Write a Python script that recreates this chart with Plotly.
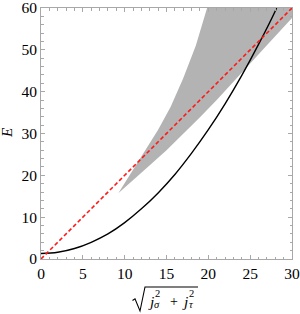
import plotly.graph_objects as go

# ---- data ----
# black curve
curve_x = [0, 2, 4, 6, 8, 10, 12, 14, 16, 18, 20, 22, 24, 26, 28, 28.15]
curve_E = [1.3, 1.6, 2.5, 4.0, 6.0, 8.7, 12.0, 15.8, 20.2, 25.3, 30.9, 37.1, 43.9, 51.3, 59.3, 60.0]

# red dashed line
line_x = [0, 30]
line_E = [0, 60]

# shaded region boundaries
shade_upper_x = [9.24, 11, 12.5, 14, 15.5, 17, 18.5, 19.85, 30]
shade_upper_E = [15.7, 21.2, 25.9, 30.9, 36.4, 43.2, 51.0, 60.0, 60.0]
shade_lower_x = [9.24, 11, 13, 15, 17, 19, 21, 23, 25, 27, 30]
shade_lower_E = [15.7, 18.8, 22.4, 26.0, 29.9, 33.9, 38.0, 42.3, 46.7, 51.1, 57.6]

x_ticks = [0, 5, 10, 15, 20, 25, 30]
y_ticks = [0, 10, 20, 30, 40, 50, 60]

# ---- figure ----
W, H = 300, 314
L, R, T, B = 41, 8, 8, 55
pw, ph = W - L - R, H - T - B


def px(xp):
    return (xp - L) / pw


def py(yp):
    return (H - B - yp) / ph


fig = go.Figure()

poly_x = shade_upper_x + shade_lower_x[::-1]
poly_y = shade_upper_E + shade_lower_E[::-1]
fig.add_trace(go.Scatter(x=poly_x, y=poly_y, mode="lines", fill="toself",
                         fillcolor="#b3b3b3", line=dict(width=0, color="#b3b3b3"),
                         hoverinfo="skip", showlegend=False))
fig.add_trace(go.Scatter(x=curve_x, y=curve_E, mode="lines", line_shape="spline",
                         line=dict(color="black", width=1.4), showlegend=False))
fig.add_trace(go.Scatter(x=line_x, y=line_E, mode="lines",
                         line=dict(color="#ff1a1a", width=1.6, dash="4px,2.5px"),
                         showlegend=False))

serif = "Liberation Serif"
frame = "#a8a8a8"
tickfont = dict(family=serif, size=15.5, color="black")
common = dict(showline=True, linecolor=frame, linewidth=1, mirror="ticks",
              ticks="inside", ticklen=4, tickcolor=frame, tickwidth=1,
              showgrid=False, zeroline=False, tickfont=tickfont, fixedrange=True,
              automargin=False, ticklabeloverflow="allow")

fig.update_xaxes(range=[0, 30], tickvals=x_ticks, ticktext=[str(v) for v in x_ticks],
                 minor=dict(dtick=1, ticklen=2.5, ticks="inside", tickcolor=frame, showgrid=False),
                 **common)
fig.update_yaxes(range=[0, 60], tickvals=y_ticks, ticktext=[str(v) for v in y_ticks],
                 minor=dict(dtick=2, ticklen=2.5, ticks="inside", tickcolor=frame, showgrid=False),
                 **common)

ann = []
# y title
ann.append(dict(text="<i>E</i>", x=px(7), y=py(133), xref="paper", yref="paper",
                textangle=-90, showarrow=False, xanchor="center", yanchor="middle",
                font=dict(family=serif, size=15, color="black")))


def t(text, x, y, size):
    ann.append(dict(text=text, x=px(x), y=py(y), xref="paper", yref="paper",
                    showarrow=False, xanchor="center", yanchor="middle", borderpad=0,
                    font=dict(family=serif, size=size, color="black")))


# x title pieces
t("<i>j</i>", 151, 301, 15.5)
t("2", 157, 293.5, 10.5)
t("<i>σ</i>", 157, 304, 10.5)
t("+", 173.5, 301, 14)
t("<i>j</i>", 185, 301, 15.5)
t("2", 191, 293.5, 10.5)
t("<i>τ</i>", 191, 304, 10.5)

shapes = [dict(type="path", xref="paper", yref="paper",
               path=f"M {px(132.5)},{py(300.5)} L {px(135)},{py(298.8)} L {px(140)},{py(311)} "
                    f"L {px(145)},{py(287)} L {px(198)},{py(287)}",
               line=dict(color="black", width=1.1))]

fig.update_layout(width=W, height=H, margin=dict(l=L, r=R, t=T, b=B, autoexpand=False),
                  plot_bgcolor="white", paper_bgcolor="white",
                  annotations=ann, shapes=shapes, showlegend=False)

fig.write_html("out.html", config={"displayModeBar": False},
               post_script="document.body.style.margin='0';document.body.style.padding='0';"
                           "document.body.style.overflow='hidden';")
